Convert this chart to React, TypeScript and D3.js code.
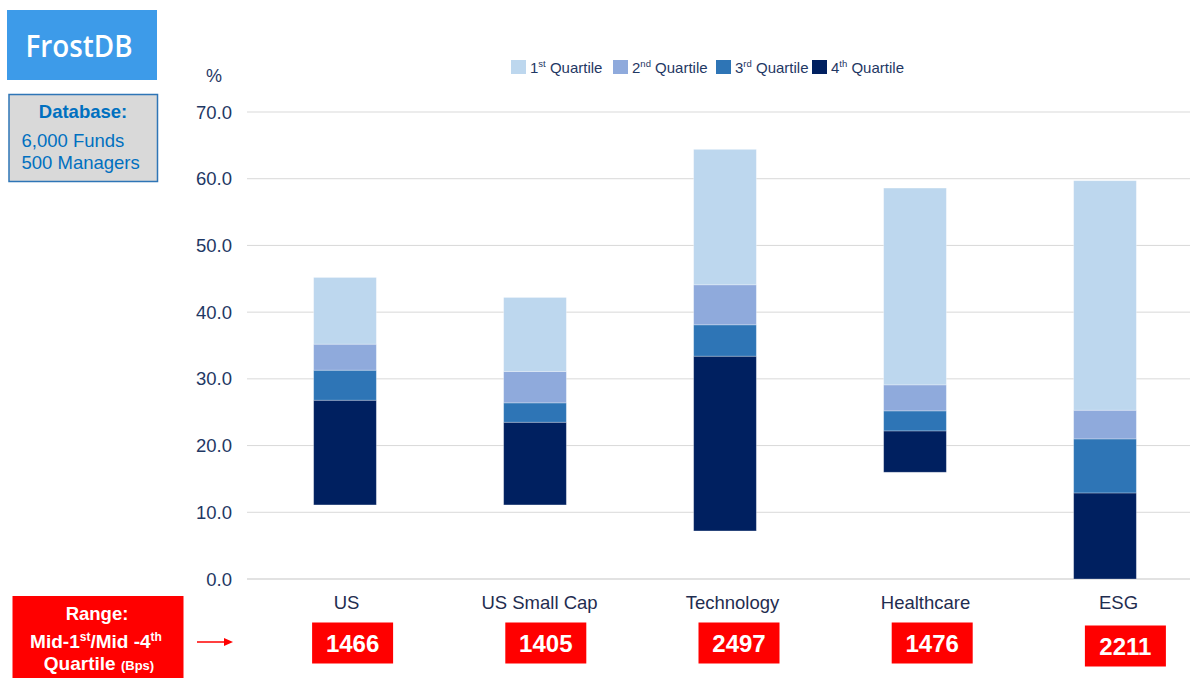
import React from "react";
import * as d3 from "d3";

const categories = ["US", "US Small Cap", "Technology", "Healthcare", "ESG"];
const lowValues = [11.1, 11.1, 7.2, 16.0, 0.0];
const q4Top = [26.8, 23.5, 33.4, 22.2, 12.9];
const q3Top = [31.3, 26.4, 38.1, 25.2, 21.0];
const q2Top = [35.2, 31.1, 44.1, 29.1, 25.3];
const q1Top = [45.2, 42.2, 64.4, 58.6, 59.7];
const rangeBps = [1466, 1405, 2497, 1476, 2211];
const yTicks = [0, 10, 20, 30, 40, 50, 60, 70];
const seriesNames = [
  { ord: "1", sup: "st" },
  { ord: "2", sup: "nd" },
  { ord: "3", sup: "rd" },
  { ord: "4", sup: "th" },
];
const colors = ["#bdd7ee", "#8faadc", "#2e75b6", "#002060"];

const W = 1190;
const H = 678;
const NAVY = "#1f3864";

export default function App() {
  const y = d3.scaleLinear().domain([0, 70]).range([579, 112]);
  const x = d3.scaleBand<string>().domain(categories).range([250, 1200]).paddingInner(0.67).paddingOuter(0.335);
  const xLabel = d3.scaleBand<string>().domain(categories).range([250, 1215]);
  const xBox = d3.scaleBand<string>().domain(categories).range([256, 1222]);

  const segs = categories.map((c, i) => [
    { q: 3, lo: lowValues[i], hi: q4Top[i] },
    { q: 2, lo: q4Top[i], hi: q3Top[i] },
    { q: 1, lo: q3Top[i], hi: q2Top[i] },
    { q: 0, lo: q2Top[i], hi: q1Top[i] },
  ]);

  const legendX = [511, 613, 716, 812];
  const sans = "'Liberation Sans', Arial, sans-serif";

  return (
    <svg width={W} height={H} style={{ position: "absolute", left: 0, top: 0, background: "#fff" }}>
      {/* Logo */}
      <rect x={7} y={10} width={150} height={70} fill="#3d9be9" />
      <text x={79} y={57} textAnchor="middle" fill="#fff" fontFamily="'Open Sans', sans-serif" fontWeight={600} fontSize={31} textLength={107} lengthAdjust="spacingAndGlyphs">
        FrostDB
      </text>
      {/* Database box */}
      <rect x={9} y={94.5} width={148.5} height={87} fill="#d9d9d9" stroke="#2e75b6" strokeWidth={1.5} />
      <text x={83} y={118.3} textAnchor="middle" fill="#0070c0" fontFamily={sans} fontWeight="bold" fontSize={18.5}>Database:</text>
      <text x={21.5} y={146.7} fill="#0070c0" fontFamily={sans} fontSize={18.5}>6,000 Funds</text>
      <text x={21.5} y={169.3} fill="#0070c0" fontFamily={sans} fontSize={18.5}>500 Managers</text>

      {/* Gridlines */}
      {yTicks.map((t) => (
        <line key={t} x1={247} x2={1190} y1={y(t)} y2={y(t)} stroke="#d9d9d9" strokeWidth={t === 0 ? 1.5 : 1} />
      ))}
      {yTicks.map((t) => (
        <text key={"l" + t} x={232} y={y(t) + 6.5} textAnchor="end" fill={NAVY} fontFamily={sans} fontSize={18.5}>
          {t.toFixed(1)}
        </text>
      ))}
      <text x={214} y={82} textAnchor="middle" fill={NAVY} fontFamily={sans} fontSize={18}>%</text>

      {/* Bars */}
      {categories.map((c, i) =>
        segs[i].map((s) => (
          <rect
            key={c + s.q}
            x={x(c)}
            width={x.bandwidth()}
            y={y(s.hi)}
            height={y(s.lo) - y(s.hi)}
            fill={colors[s.q]}
            stroke="#ffffff"
            strokeOpacity={0.35}
            strokeWidth={0.8}
          />
        ))
      )}

      {/* Category labels */}
      {categories.map((c) => (
        <text key={"c" + c} x={(xLabel(c) as number) + xLabel.bandwidth() / 2} y={609} textAnchor="middle" fill="#1f2d50" fontFamily={sans} fontSize={18.5}>
          {c}
        </text>
      ))}

      {/* Legend */}
      {seriesNames.map((s, i) => (
        <g key={"lg" + i}>
          <rect x={legendX[i]} y={60} width={15} height={14} fill={colors[i]} />
          <text x={legendX[i] + 19} y={72.5} fill={NAVY} fontFamily={sans} fontSize={15}>
            {s.ord}
            <tspan fontSize={9.5} dy={-5.5}>{s.sup}</tspan>
            <tspan dy={5.5}> Quartile</tspan>
          </text>
        </g>
      ))}

      {/* Range box */}
      <rect x={12.5} y={596} width={171} height={82} fill="#ff0000" />
      <text x={97} y={620} textAnchor="middle" fill="#fff" fontFamily={sans} fontWeight="bold" fontSize={18.5}>Range:</text>
      <text x={96} y={648} textAnchor="middle" fill="#fff" fontFamily={sans} fontWeight="bold" fontSize={19}>
        Mid-1<tspan fontSize={12} dy={-7}>st</tspan>
        <tspan dy={7}>/Mid -4</tspan>
        <tspan fontSize={12} dy={-7}>th</tspan>
      </text>
      <text x={99} y={670} textAnchor="middle" fill="#fff" fontFamily={sans} fontWeight="bold" fontSize={19}>
        Quartile <tspan fontSize={13}>(Bps)</tspan>
      </text>
      {/* Arrow */}
      <line x1={197} x2={226} y1={642} y2={642} stroke="#ff0000" strokeWidth={1.5} />
      <path d="M224,638 L233,642 L224,646 Z" fill="#ff0000" />

      {/* Range values */}
      {categories.map((c, i) => {
        const cx = (xBox(c) as number) + xBox.bandwidth() / 2;
        const top = i === 4 ? 625.5 : 622.5;
        return (
          <g key={"b" + c}>
            <rect x={cx - 40.5} y={top} width={81} height={41} fill="#ff0000" />
            <text
              x={cx}
              y={top + 29}
              textAnchor="middle"
              fill="#fff"
              fontFamily={sans}
              fontWeight="bold"
              fontSize={24}
            >
              {rangeBps[i]}
            </text>
          </g>
        );
      })}
    </svg>
  );
}
